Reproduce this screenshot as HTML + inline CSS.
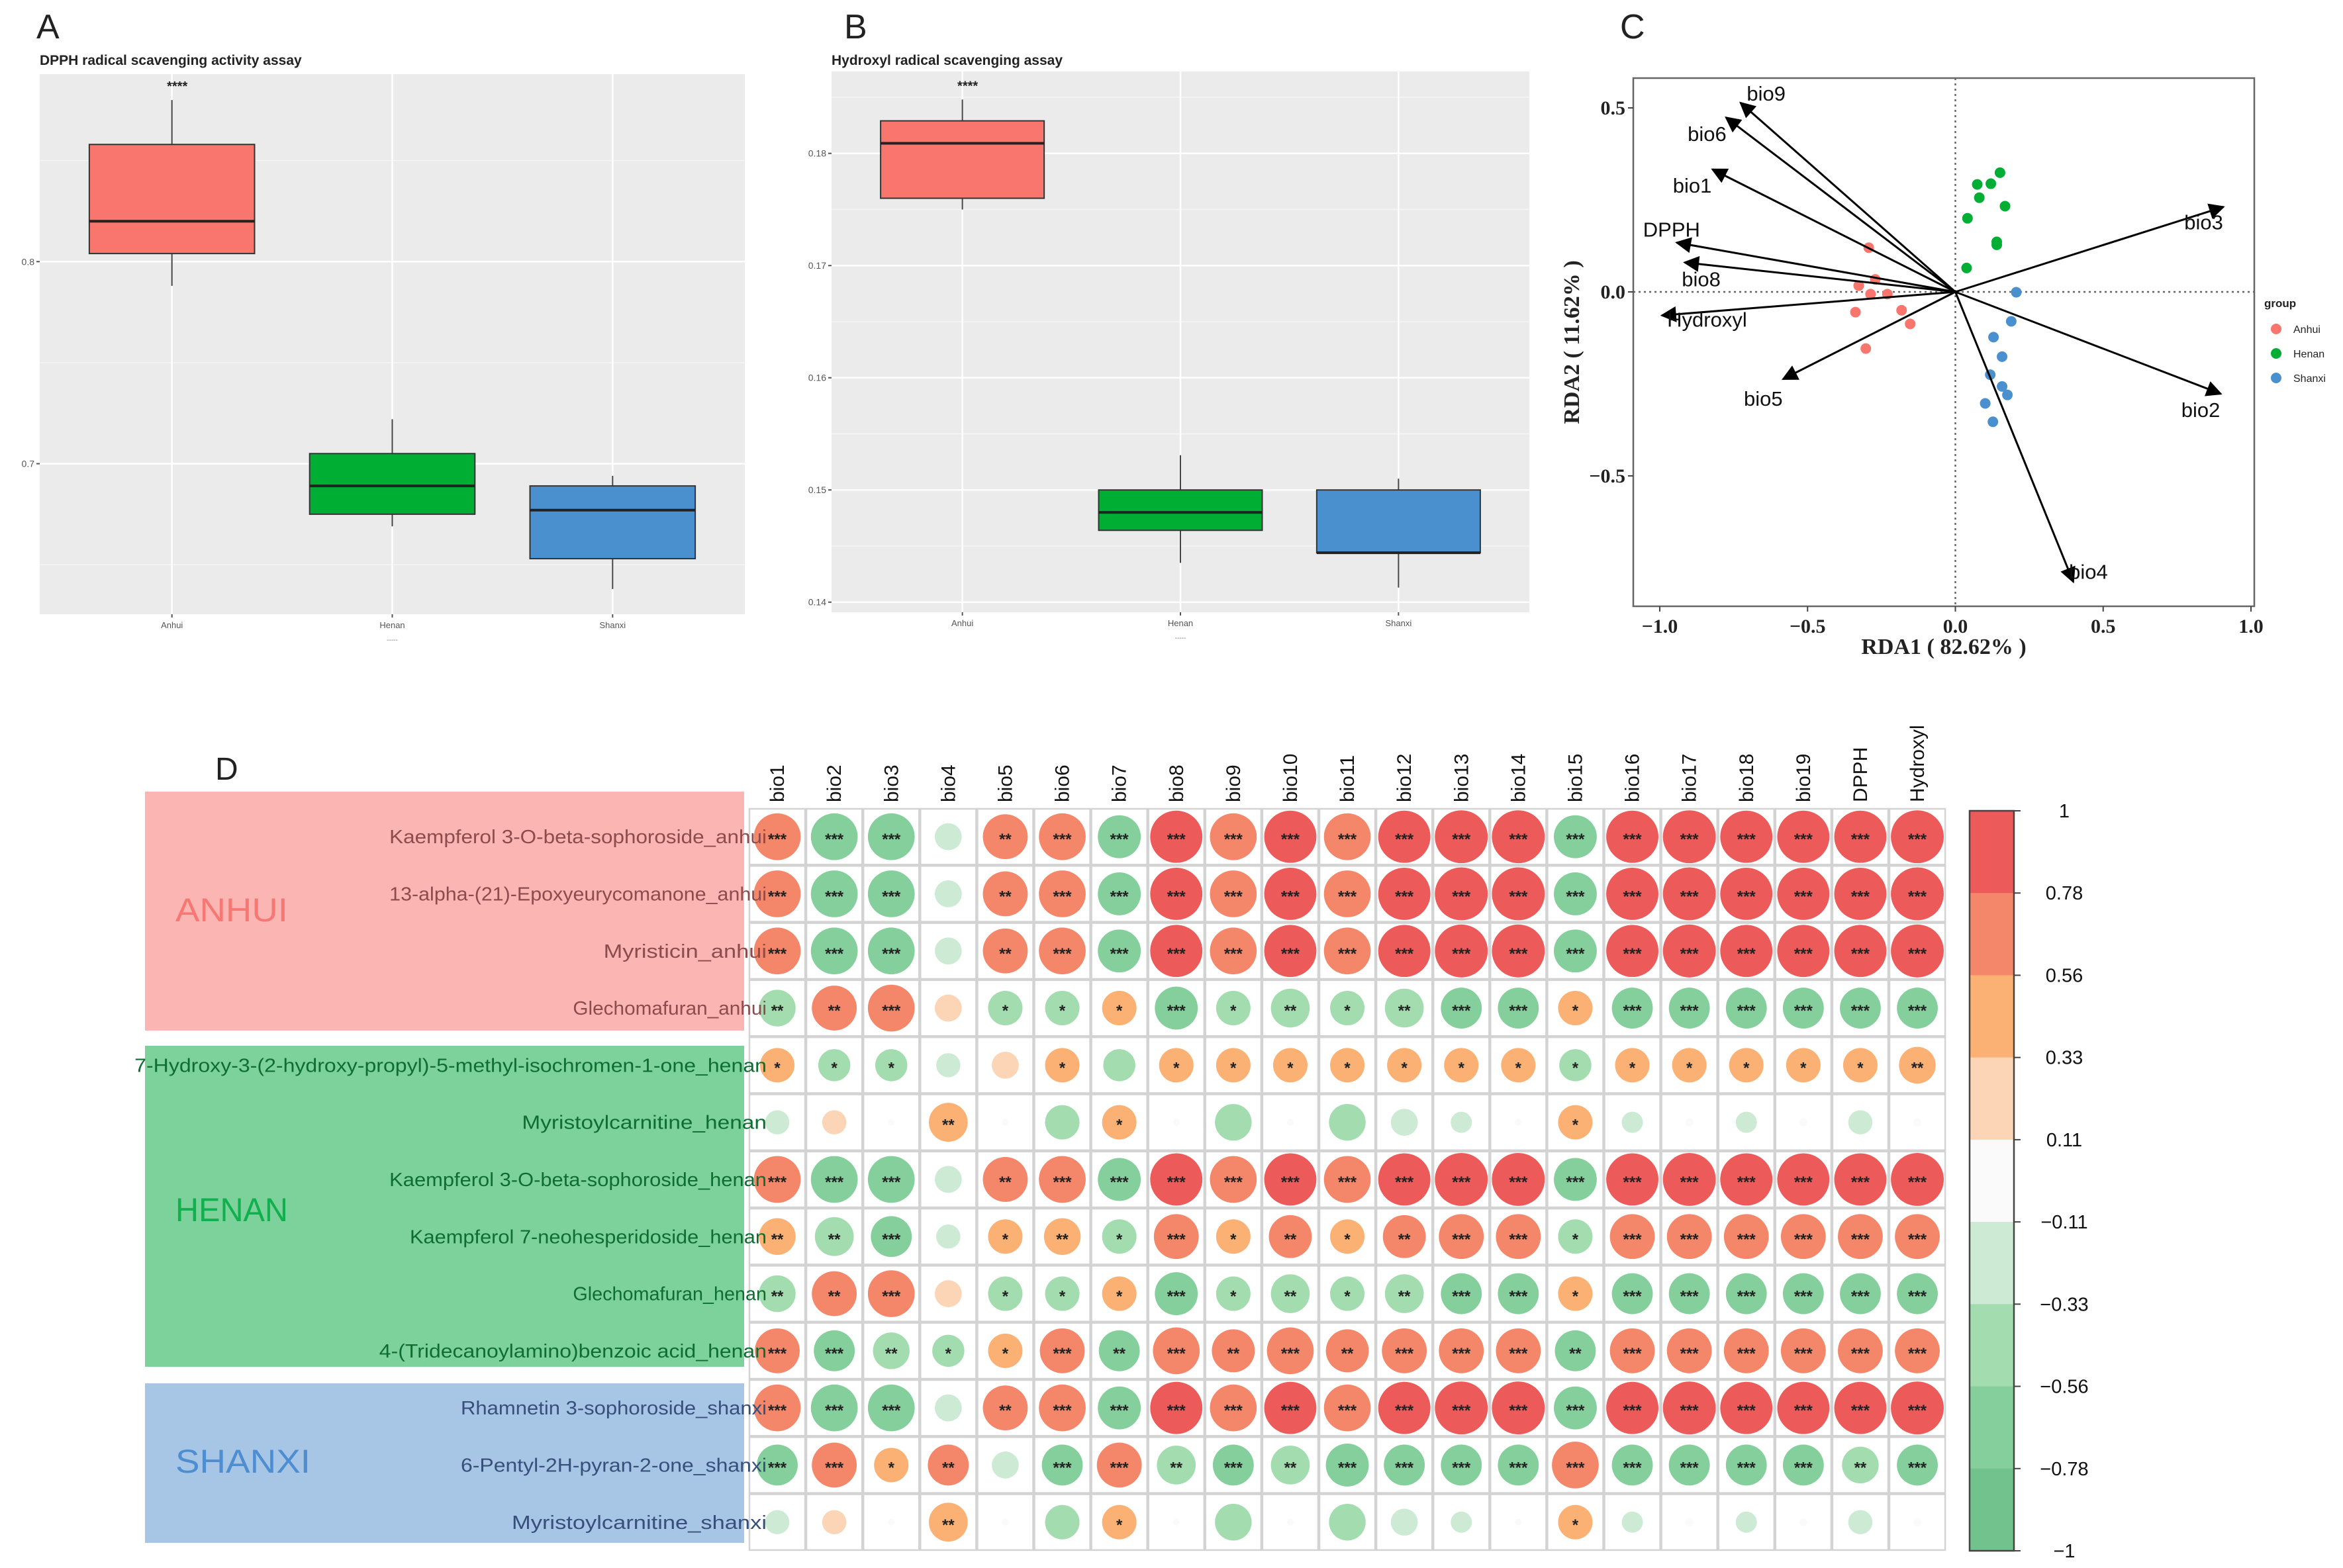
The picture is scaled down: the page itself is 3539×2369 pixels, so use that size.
<!DOCTYPE html>
<html><head><meta charset="utf-8"><title>Figure</title>
<style>html,body{margin:0;padding:0;background:#fff}svg{display:block}</style></head>
<body>
<svg id="fig" xmlns="http://www.w3.org/2000/svg" width="3539" height="2369" viewBox="0 0 3539 2369" font-family="Liberation Sans, sans-serif">
<rect x="0" y="0" width="3539" height="2369" fill="#fff"/>
<g id="pA"></g>
<g id="pB"></g>
<g id="pC"></g>
<g id="pD"></g>
</svg>
<script>
const NS='http://www.w3.org/2000/svg';
function mk(parent,tag,attrs,text){const e=document.createElementNS(NS,tag);for(const k in attrs)e.setAttribute(k,attrs[k]);if(text!==undefined)e.textContent=text;parent.appendChild(e);return e;}

// ---------- Panel A/B data ----------
const boxGroups=['Anhui','Henan','Shanxi'];
const boxColors=['#F8766D','#00AE34','#4A90CF'];
const dpphMin=[0.788,0.669,0.638];
const dpphQ1=[0.804,0.675,0.653];
const dpphMed=[0.820,0.689,0.677];
const dpphQ3=[0.858,0.705,0.689];
const dpphMax=[0.880,0.722,0.694];
const dpphTicks=[0.7,0.8];
const hydMin=[0.175,0.1435,0.1413];
const hydQ1=[0.176,0.1464,0.1444];
const hydMed=[0.1809,0.148,0.1444];
const hydQ3=[0.1829,0.150,0.150];
const hydMax=[0.1848,0.1531,0.151];
const hydTicks=[0.14,0.15,0.16,0.17,0.18];

function boxPanel(g,cfg){
  const {x0,x1,y0,y1,dmin,dmax,ticks,minor,letter,lx,title,mins,q1,med,q3,maxs,nm}=cfg;
  const sy=v=>y1-(v-dmin)/(dmax-dmin)*(y1-y0);
  const u=(x1-x0)/3.2; const sx=i=>x0+u*(i+0.6); const bw=u;
  let t=mk(g,'text',{x:lx,y:58,'font-size':52,fill:'#222'},letter);
  
  t=mk(g,'text',{x:x0,y:98,'font-size':21,'font-weight':'bold',fill:'#222'},title);
  
  let r=mk(g,'rect',{x:x0,y:y0,width:x1-x0,height:y1-y0,fill:'#EBEBEB'});
  
  minor.forEach(v=>{const l=mk(g,'line',{x1:x0,x2:x1,y1:sy(v),y2:sy(v),stroke:'#F5F5F5','stroke-width':1.5});
    });
  ticks.forEach(v=>{const l=mk(g,'line',{x1:x0,x2:x1,y1:sy(v),y2:sy(v),stroke:'#fff','stroke-width':2.5});
    
    const tk=mk(g,'line',{x1:x0-5,x2:x0,y1:sy(v),y2:sy(v),stroke:'#555','stroke-width':2});
    
    const tx=mk(g,'text',{x:x0-8,y:sy(v)+5,'font-size':14,'text-anchor':'end',fill:'#555'},String(v));
    });
  boxGroups.forEach((grp,i)=>{
    const cx=sx(i);
    const gl=mk(g,'line',{x1:cx,x2:cx,y1:y0,y2:y1,stroke:'#fff','stroke-width':2.5});
    
    const wk=mk(g,'line',{x1:cx,x2:cx,y1:sy(maxs[i]),y2:sy(mins[i]),stroke:'#444','stroke-width':2});
    
    const b=mk(g,'rect',{x:cx-bw*0.375,y:sy(q3[i]),width:bw*0.75,height:sy(q1[i])-sy(q3[i]),fill:boxColors[i],stroke:'#333','stroke-width':2});
    
    const m=mk(g,'line',{x1:cx-bw*0.375,x2:cx+bw*0.375,y1:sy(med[i]),y2:sy(med[i]),stroke:'#222','stroke-width':4});
    
    const tk=mk(g,'line',{x1:cx,x2:cx,y1:y1,y2:y1+5,stroke:'#555','stroke-width':2});
    
    const tx=mk(g,'text',{x:cx,y:y1+21,'font-size':13,'text-anchor':'middle',fill:'#555'},grp);
    
  });
  t=mk(g,'text',{x:sx(0)+8,y:sy(maxs[0])-14,'font-size':20,'font-weight':'bold','text-anchor':'middle',fill:'#222'},'****');
  
  t=mk(g,'text',{x:sx(1),y:y1+42,'font-size':10,'text-anchor':'middle',fill:'#777'},'-----');
  
}
boxPanel(document.getElementById('pA'),{x0:60,x1:1125,y0:112,y1:928,dmin:0.6255,dmax:0.8928,ticks:dpphTicks,minor:[0.65,0.75,0.85],letter:'A',lx:55,title:'DPPH radical scavenging activity assay',mins:dpphMin,q1:dpphQ1,med:dpphMed,q3:dpphQ3,maxs:dpphMax,nm:'dpph'});
boxPanel(document.getElementById('pB'),{x0:1256,x1:2310,y0:108,y1:925,dmin:0.1391,dmax:0.1873,ticks:hydTicks,minor:[0.145,0.155,0.165,0.175,0.185],letter:'B',lx:1275,title:'Hydroxyl radical scavenging assay',mins:hydMin,q1:hydQ1,med:hydMed,q3:hydQ3,maxs:hydMax,nm:'hydroxyl'});

// ---------- Panel C data ----------
const arrowNames=['bio9','bio6','bio1','DPPH','bio8','Hydroxyl','bio5','bio3','bio2','bio4'];
const arrowX=[-0.727,-0.776,-0.822,-0.943,-0.916,-0.993,-0.583,0.907,0.898,0.399];
const arrowY=[0.514,0.474,0.333,0.134,0.080,-0.064,-0.237,0.231,-0.277,-0.788];
const arrowLabelX=[-0.64,-0.84,-0.89,-0.96,-0.86,-0.84,-0.65,0.84,0.83,0.45];
const arrowLabelY=[0.54,0.43,0.29,0.17,0.035,-0.075,-0.29,0.19,-0.32,-0.76];
const anhuiX=[-0.293,-0.271,-0.327,-0.287,-0.230,-0.338,-0.182,-0.153,-0.303];
const anhuiY=[0.120,0.034,0.017,-0.006,-0.006,-0.055,-0.050,-0.087,-0.154];
const henanX=[0.151,0.074,0.120,0.081,0.168,0.041,0.140,0.140,0.038];
const henanY=[0.324,0.292,0.294,0.256,0.233,0.200,0.136,0.128,0.065];
const shanxiX=[0.206,0.189,0.129,0.158,0.118,0.158,0.176,0.101,0.127];
const shanxiY=[-0.001,-0.080,-0.123,-0.176,-0.225,-0.257,-0.280,-0.303,-0.353];
const rdaXTicks=[-1.0,-0.5,0.0,0.5,1.0];
const rdaYTicks=[-0.5,0.0,0.5];
(function(){
  const g=document.getElementById('pC');
  const X0=2467,X1=3405,Y0=118,Y1=916;
  const sx=v=>2953.5+v*446.5, sy=v=>441-v*556;
  const defs=mk(g,'defs',{});
  const mrk=mk(defs,'marker',{id:'ah',viewBox:'0 0 10 10',refX:9,refY:5,markerUnits:'userSpaceOnUse',orient:'auto'});
  mrk.setAttribute('markerWidth',30);mrk.setAttribute('markerHeight',24);
  mk(mrk,'path',{d:'M0,0 L10,5 L0,10 z',fill:'#000'});
  let t=mk(g,'text',{x:2447,y:58,'font-size':52,fill:'#222'},'C');
  
  let r=mk(g,'rect',{x:X0,y:Y0,width:X1-X0,height:Y1-Y0,fill:'#fff',stroke:'#666','stroke-width':2.5});
  
  let l=mk(g,'line',{x1:X0,x2:X1,y1:sy(0),y2:sy(0),stroke:'#666','stroke-width':2.5,'stroke-dasharray':'3 5'});
  
  l=mk(g,'line',{x1:sx(0),x2:sx(0),y1:Y0,y2:Y1,stroke:'#666','stroke-width':2.5,'stroke-dasharray':'3 5'});
  
  rdaXTicks.forEach(v=>{const tk=mk(g,'line',{x1:sx(v),x2:sx(v),y1:Y1,y2:Y1+8,stroke:'#444','stroke-width':2});
    
    const tx=mk(g,'text',{x:sx(v),y:Y1+40,'font-size':30,'font-weight':'bold','font-family':'Liberation Serif, serif','text-anchor':'middle',fill:'#222'},(v<0?'\u2212':'')+Math.abs(v).toFixed(1));
    });
  rdaYTicks.forEach(v=>{const tk=mk(g,'line',{x1:X0-8,x2:X0,y1:sy(v),y2:sy(v),stroke:'#444','stroke-width':2});
    
    const tx=mk(g,'text',{x:X0-12,y:sy(v)+10,'font-size':30,'font-weight':'bold','font-family':'Liberation Serif, serif','text-anchor':'end',fill:'#222'},(v<0?'\u2212':'')+Math.abs(v).toFixed(1));
    });
  t=mk(g,'text',{x:(X0+X1)/2,y:988,'font-size':34,'font-weight':'bold','font-family':'Liberation Serif, serif','text-anchor':'middle',fill:'#222'},'RDA1 ( 82.62% )');
  
  t=mk(g,'text',{x:2385,y:(Y0+Y1)/2,'font-size':34,'font-weight':'bold','font-family':'Liberation Serif, serif','text-anchor':'middle',fill:'#222',transform:'rotate(-90 2385 '+((Y0+Y1)/2)+')'},'RDA2 ( 11.62% )');
  
  const pts=[[anhuiX,anhuiY,'#F8766D','anhui'],[henanX,henanY,'#00AE34','henan'],[shanxiX,shanxiY,'#4A90CF','shanxi']];
  pts.forEach(p=>{p[0].forEach((x,i)=>{const c=mk(g,'circle',{cx:sx(x),cy:sy(p[1][i]),r:8,fill:p[2]});
    });});
  arrowNames.forEach((n,i)=>{
    const a=mk(g,'line',{x1:sx(0),y1:sy(0),x2:sx(arrowX[i]),y2:sy(arrowY[i]),stroke:'#000','stroke-width':3,'marker-end':'url(#ah)'});
    
    const tx=mk(g,'text',{x:sx(arrowLabelX[i]),y:sy(arrowLabelY[i])+11,'font-size':31,'text-anchor':'middle',fill:'#111'},n);
    
  });
  t=mk(g,'text',{x:3420,y:464,'font-size':17,'font-weight':'bold',fill:'#222'},'group');
  
  ['Anhui','Henan','Shanxi'].forEach((n,i)=>{const yy=497+i*37;
    const c=mk(g,'circle',{cx:3438,cy:yy,r:8,fill:pts[i][2]});
    
    const tx=mk(g,'text',{x:3464,y:yy+6,'font-size':16,fill:'#222'},n);
    });
})();

// ---------- Panel D data ----------
const corrCols=['bio1','bio2','bio3','bio4','bio5','bio6','bio7','bio8','bio9','bio10','bio11','bio12','bio13','bio14','bio15','bio16','bio17','bio18','bio19','DPPH','Hydroxyl'];
const corrRows=['Kaempferol 3-O-beta-sophoroside_anhui','13-alpha-(21)-Epoxyeurycomanone_anhui','Myristicin_anhui','Glechomafuran_anhui','7-Hydroxy-3-(2-hydroxy-propyl)-5-methyl-isochromen-1-one_henan','Myristoylcarnitine_henan','Kaempferol 3-O-beta-sophoroside_henan','Kaempferol 7-neohesperidoside_henan','Glechomafuran_henan','4-(Tridecanoylamino)benzoic acid_henan','Rhamnetin 3-sophoroside_shanxi','6-Pentyl-2H-pyran-2-one_shanxi','Myristoylcarnitine_shanxi'];
const rowGroup=[0,0,0,0,1,1,1,1,1,1,2,2,2];
const strongRow=[0.75,-0.75,-0.75,-0.3,0.7,0.75,-0.65,0.9,0.75,0.9,0.75,0.9,0.92,0.92,-0.65,0.9,0.92,0.9,0.9,0.9,0.92];
const strongStars=['***','***','***','','**','***','***','***','***','***','***','***','***','***','***','***','***','***','***','***','***'];
const glechRow=[-0.5,0.7,0.75,0.3,-0.45,-0.45,0.45,-0.65,-0.45,-0.55,-0.45,-0.55,-0.6,-0.6,0.45,-0.6,-0.6,-0.6,-0.6,-0.6,-0.6];
const glechStars=['**','**','***','','*','*','*','***','*','**','*','**','***','***','*','***','***','***','***','***','***'];
const hydroxyRow=[0.45,-0.4,-0.4,-0.25,0.3,0.45,-0.4,0.45,0.45,0.45,0.45,0.45,0.45,0.45,-0.4,0.45,0.45,0.45,0.45,0.45,0.5];
const hydroxyStars=['*','*','*','','','*','','*','*','*','*','*','*','*','*','*','*','*','*','*','**'];
const myrRow=[-0.25,0.25,0.03,0.55,0.03,-0.45,0.45,0.03,-0.5,0.03,-0.5,-0.3,-0.2,0.03,0.45,-0.2,0.04,-0.2,0.04,-0.25,0.04];
const myrStars=['','','','**','','','*','','','','','','','','*','','','','','',''];
const neoRow=[0.5,-0.55,-0.6,-0.25,0.45,0.5,-0.45,0.7,0.45,0.65,0.45,0.65,0.7,0.7,-0.45,0.7,0.7,0.7,0.7,0.7,0.7];
const neoStars=['**','**','***','','*','**','*','***','*','**','*','**','***','***','*','***','***','***','***','***','***'];
const tridRow=[0.7,-0.6,-0.5,-0.4,0.45,0.7,-0.6,0.75,0.65,0.75,0.65,0.7,0.7,0.7,-0.6,0.7,0.7,0.7,0.7,0.7,0.7];
const tridStars=['***','***','**','*','*','***','**','***','**','***','**','***','***','***','**','***','***','***','***','***','***'];
const pentylRow=[-0.6,0.7,0.45,0.6,-0.3,-0.6,0.7,-0.55,-0.6,-0.55,-0.65,-0.6,-0.6,-0.6,0.75,-0.6,-0.6,-0.6,-0.6,-0.5,-0.6];
const pentylStars=['***','***','*','**','','***','***','**','***','**','***','***','***','***','***','***','***','***','***','**','***'];
const corrValues=[strongRow,strongRow,strongRow,glechRow,hydroxyRow,myrRow,strongRow,neoRow,glechRow,tridRow,strongRow,pentylRow,myrRow];
const corrStars=[strongStars,strongStars,strongStars,glechStars,hydroxyStars,myrStars,strongStars,neoStars,glechStars,tridStars,strongStars,pentylStars,myrStars];
const scaleBreaks=[1,0.78,0.56,0.33,0.11,-0.11,-0.33,-0.56,-0.78,-1];
const scaleColors=['#EC5A5A','#F4866A','#FBB173','#FCD5B7','#FAFAFA','#CDEBD4','#A3DDAF','#84CF9B','#72C28E'];
(function(){
  const g=document.getElementById('pD');
  const X0=1131,Y0=1221,CW=86.1,CH=86.3;
  const colorOf=v=>{for(let i=0;i<scaleColors.length;i++){if(v>=scaleBreaks[i+1])return scaleColors[i];}return scaleColors[scaleColors.length-1];};
  let t=mk(g,'text',{x:325,y:1178,'font-size':48,fill:'#222'},'D');
  
  const groups=[['ANHUI',1196,1557,'#FBB6B3','#F77873',1392],['HENAN',1580,2065,'#7DD29C','#0FB04D',1845],['SHANXI',2090,2331,'#A7C5E4','#4E8ED0',2225]];
  groups.forEach(gr=>{const r=mk(g,'rect',{x:219,y:gr[1],width:905,height:gr[2]-gr[1],fill:gr[3]});
    
    const tx=mk(g,'text',{x:265,y:gr[5],'font-size':50,fill:gr[4],textLength:gr[0].length*34,lengthAdjust:'spacingAndGlyphs'},gr[0]);
    });
  const rowCol=['#8E4A4C','#0E6E32','#35507A'];
  corrCols.forEach((c,j)=>{const cx=X0+CW*(j+0.5);
    const tx=mk(g,'text',{x:0,y:0,'font-size':30,fill:'#111',transform:'translate('+(cx+10)+' 1212) rotate(-90)'},c);
    });
  corrRows.forEach((rn,i)=>{const cy=Y0+CH*(i+0.5);
    corrCols.forEach((c,j)=>{const cx=X0+CW*(j+0.5);const v=corrValues[i][j];
      const cell=mk(g,'rect',{x:X0+CW*j+1,y:Y0+CH*i+1,width:CW-2,height:CH-2,fill:'#fff',stroke:'#D3D3D3','stroke-width':2.5});
      
      const circ=mk(g,'circle',{cx:cx,cy:cy,r:42*Math.pow(Math.abs(v),0.6),fill:colorOf(v)});
      
      const s=corrStars[i][j];
      if(s){const st=mk(g,'text',{x:cx,y:cy+12,'font-size':24,'font-weight':'bold','text-anchor':'middle',fill:'#222'},s);
        }
    });
  });
  corrRows.forEach((rn,i)=>{const cy=Y0+CH*(i+0.5);
    const tx=mk(g,'text',{x:1158,y:cy+10,'font-size':29,'text-anchor':'end',fill:rowCol[rowGroup[i]],textLength:rn.length*15.4,lengthAdjust:'spacingAndGlyphs'},rn);
    });
  // colorbar
  const BX=2975,BW=67,BY0=1225,BY1=2343;const step=(BY1-BY0)/(scaleBreaks.length-1);
  scaleColors.forEach((c,i)=>{const r=mk(g,'rect',{x:BX,y:BY0+step*i,width:BW,height:step+0.5,fill:c});
    });
  let fr=mk(g,'rect',{x:BX,y:BY0,width:BW,height:BY1-BY0,fill:'none',stroke:'#444','stroke-width':2.5});
  
  scaleBreaks.forEach((v,i)=>{const yy=BY0+step*i;
    const tk=mk(g,'line',{x1:BX+BW,x2:BX+BW+10,y1:yy,y2:yy,stroke:'#444','stroke-width':2});
    
    const tx=mk(g,'text',{x:3118,y:yy+10,'font-size':29,'text-anchor':'middle',fill:'#111'},(v<0?'\u2212':'')+String(Math.abs(v)));
    });
})();
</script>
</body></html>
